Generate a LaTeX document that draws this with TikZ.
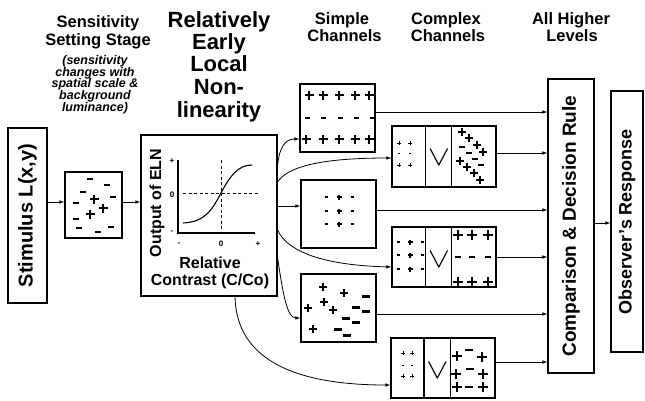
\documentclass[tikz,border=0pt]{standalone}
\usepackage{fontspec}
\setmainfont{Liberation Sans}
\usetikzlibrary{arrows.meta}
\newcommand\symP[4]{\draw[line width=#4] (#1-#3,#2) -- (#1+#3,#2) (#1,#2-#3) -- (#1,#2+#3);}
\newcommand\symM[4]{\draw[line width=#4] (#1-#3,#2) -- (#1+#3,#2);}
\newcommand\fsz[2]{\fontsize{#1}{#2}\selectfont}
\begin{document}
\begin{tikzpicture}[x=1pt,y=-1pt,
  box/.style={draw,line width=1.1pt,inner sep=0pt},
  arr/.style={line width=0.8pt,-{Latex[length=5pt,width=3.6pt]}},
  ttl/.style={font=\bfseries\fsz{16.5}{18},anchor=base,inner sep=0pt},
  big/.style={font=\bfseries\fsz{22}{22},anchor=base,inner sep=0pt},
  note/.style={font=\bfseries\itshape\fsz{12.5}{12},anchor=base,inner sep=0pt},
  tick/.style={font=\bfseries\fsz{8}{8},inner sep=0pt},
  orv/.style={font=\fsz{22}{22},inner sep=0pt},
  dsh/.style={line width=0.9pt,dash pattern=on 3pt off 2.5pt}
]
\fill[white] (0,0) rectangle (645,400);
\path[use as bounding box] (0,0) rectangle (645,400);

% ---------- titles ----------
\node[ttl] (ss1) at (98,27) {Sensitivity};
\node[ttl] (ss2) at (98,45) {Setting Stage};
\node[note] (n1) at (95,64) {(sensitivity};
\node[note] (n2) at (95,76) {changes with};
\node[note] (n3) at (95,87.5) {spatial scale \&};
\node[note] (n4) at (95,99) {background};
\node[note] (n5) at (95,111) {luminance)};
\node[big] (r1) at (219,27) {Relatively};
\node[big] (r2) at (219,49) {Early};
\node[big] (r3) at (219,71.5) {Local};
\node[big] (r4) at (219,94) {Non-};
\node[big] (r5) at (219,117) {linearity};
\node[ttl] (sc1) at (342,24.5) {Simple};
\node[ttl] (sc2) at (344.5,41) {Channels};
\node[ttl] (cc1) at (446,24.5) {Complex};
\node[ttl] (cc2) at (448,41) {Channels};
\node[ttl] (hl1) at (571,24.5) {All Higher};
\node[ttl] (hl2) at (572,41) {Levels};

% ---------- boxes ----------
\node[box,minimum width=39,minimum height=175,font=\bfseries\fsz{20}{20}] (stim) at (27.5,215.5) {\rotatebox{90}{Stimulus L(x,y)}};
\node[box,minimum width=57,minimum height=66] (sens) at (93.5,205) {};
\node[box,minimum width=136,minimum height=161] (eln) at (209,215.5) {};
\node[box,minimum width=75,minimum height=68] (s1) at (337.5,118) {};
\node[box,minimum width=75,minimum height=68] (s2) at (338.5,214) {};
\node[box,minimum width=75,minimum height=68] (s3) at (338.5,308) {};
\node[box,minimum width=104,minimum height=61] (c1) at (444,156.5) {};
\node[box,minimum width=104,minimum height=60] (c2) at (444,257) {};
\node[box,minimum width=104,minimum height=60] (c3) at (443,368) {};
\node[box,minimum width=46,minimum height=294,font=\bfseries\fsz{19}{19}] (comp) at (571,226) {\rotatebox{90}{Comparison \& Decision Rule}};
\node[box,minimum width=32,minimum height=261,font=\bfseries\fsz{18}{18}] (obs) at (627,221.5) {\rotatebox{90}{Observer’s Response}};

% complex channel dividers
\foreach \c/\a/\b in {c1/34/60,c2/34/60,c3/33.5/60}{
  \draw[line width=1.1pt] ([xshift=\a]\c.north west) -- ([xshift=\a]\c.south west);
  \draw[line width=1.1pt] ([xshift=\b]\c.north west) -- ([xshift=\b]\c.south west);
}
\node[orv] (v1) at (439,158) {\scalebox{1.6}[1.35]{$\vee$}};
\node[orv] (v2) at (439,260) {\scalebox{1.6}[1.35]{$\vee$}};
\node[orv] (v3) at (437.5,371) {\scalebox{1.6}[1.35]{$\vee$}};

% ---------- ELN plot ----------
\draw[line width=1.2pt] (178,160) -- (178,233) -- (255,233);
\draw[dsh] (221,160) -- (221,233);
\draw[dsh] (183,193) -- (258,193);
\draw[line width=1.1pt] (183,223) .. controls (205,222) and (212,210) .. (221,193)
   .. controls (230,176) and (238,165) .. (252,165);
\node[tick] (ty1) at (172,161) {+};
\node[tick] (ty2) at (172,195) {0};
\node[tick] (ty3) at (172,232) {-};
\node[tick] (tx1) at (179,244) {-};
\node[tick] (tx2) at (221,244) {0};
\node[tick] (tx3) at (258,244) {+};
\node[font=\bfseries\fsz{16}{16},rotate=90,inner sep=0pt] (yl) at (157,203) {Output of ELN};
\node[font=\bfseries\fsz{16}{16},anchor=base,inner sep=0pt] (xl1) at (210,268) {Relative};
\node[font=\bfseries\fsz{16}{16},anchor=base,inner sep=0pt] (xl2) at (210,285) {Contrast (C/Co)};

% ---------- symbols: sensitivity box ----------
\foreach \x/\y in {90/179,107/185,83/192,76/203,113/197,76/219,79/228,98/232,111/227}{\symM{\x}{\y}{2.8}{2}}
\foreach \x/\y in {94/199,103/208,90/214}{\symP{\x}{\y}{4.5}{2}}

% simple channel 1
\foreach \x in {309,323,339,355,369}{\symP{\x}{95}{4.5}{2}}
\foreach \x in {307,323,340,356,372}{\symM{\x}{118}{2.5}{2}}
\foreach \x in {306,323,339,355,369}{\symP{\x}{139}{4.5}{2}}
% simple channel 2
\foreach \y in {197,211,224}{\symM{326}{\y}{1.5}{1.2}\symP{339}{\y}{2.5}{1.2}\symM{352}{\y}{1.5}{1.2}}
% simple channel 3
\foreach \x/\y in {323/287,344/293,324/302,333/310,308/308,313/329}{\symP{\x}{\y}{4}{1.6}}
\foreach \x/\y in {366/296,356/307,366/311,346/318,356/322,338/329,347/335}{\symM{\x}{\y}{4}{3}}

% complex 1
\foreach \x in {399,410}{\symP{\x}{143}{2}{1}\symM{\x}{153}{1}{1}\symP{\x}{165}{2}{1}}
\foreach \x/\y in {462/132,469/138,477/145,483/152,460/161,467/167,474/173,480/180}{\symP{\x}{\y}{4}{1.7}}
\foreach \x/\y in {462/147,469/153,475/159,481/165}{\symM{\x}{\y}{3}{2.2}}
% complex 2
\foreach \y in {242,255,269}{\symM{398}{\y}{1.5}{1.2}\symP{410}{\y}{2.5}{1.2}\symM{422}{\y}{1.5}{1.2}}
\foreach \x in {458,472,488}{\symP{\x}{235}{5}{2.6}\symM{\x}{257}{3}{2.6}\symP{\x}{282}{5}{2.6}}
% complex 3
\foreach \x in {403,412}{\symP{\x}{353}{2}{1}\symM{\x}{365}{1}{1}\symP{\x}{376}{2}{1}}
\foreach \x/\y in {457/356,482/357,456/374,483/374,457/387,483/387}{\symP{\x}{\y}{5}{2.4}}
\foreach \x/\y in {469/350,470/369,469/387}{\symM{\x}{\y}{4}{2.6}}

% ---------- connectors ----------
\coordinate (a1) at ([yshift=3]sens.west);
\draw[arr] (a1 -| stim.east) -- (a1);
\draw[arr] (a1 -| sens.east) -- (a1 -| eln.west);
\coordinate (a3) at ([yshift=-1.5]obs.west);
\draw[arr] (a3 -| comp.east) -- (a3);

\coordinate (o1) at ([yshift=6]s1.east);
\coordinate (o2) at ([yshift=3.5]c1.east);
\coordinate (o3) at ([yshift=4]s2.east);
\coordinate (o4) at (c2.east);
\coordinate (o5) at ([yshift=-6]s3.east);
\coordinate (o6) at ([yshift=6]c3.east);
\foreach \i in {1,...,6}{\draw[arr] (o\i) -- (o\i -| comp.west);}

\coordinate (e1) at ([yshift=50.5]eln.east);
\coordinate (e2) at ([yshift=33.5]eln.east);
\coordinate (e3) at ([yshift=9.5]eln.east);
\coordinate (e4) at ([yshift=-14.5]eln.east);
\coordinate (e5) at ([yshift=-42.5]eln.east);
\coordinate (e6) at ([xshift=26]eln.south);
\coordinate (i1) at ([yshift=-21]s1.west);
\coordinate (i2) at ([yshift=-1.5]c1.west);
\coordinate (i4) at ([yshift=-10]c2.west);
\coordinate (i5) at ([yshift=-10]s3.west);
\coordinate (i6) at ([yshift=-17]c3.west);
\draw[arr] (e1) .. controls +(2,-17) and +(-15,0) .. (i1);
\draw[arr] (e2) .. controls +(8,-12) and +(-82,0) .. (i2);
\draw[arr] (e3) -- (e3 -| s2.west);
\draw[arr] (e4) .. controls +(8,18) and +(-77,-2) .. (i4);
\draw[arr] (e5) .. controls +(5,32) and +(-14,0) .. (i5);
\draw[arr] (e6) .. controls +(1,54) and +(-111,0) .. (i6);
\end{tikzpicture}
\end{document}
